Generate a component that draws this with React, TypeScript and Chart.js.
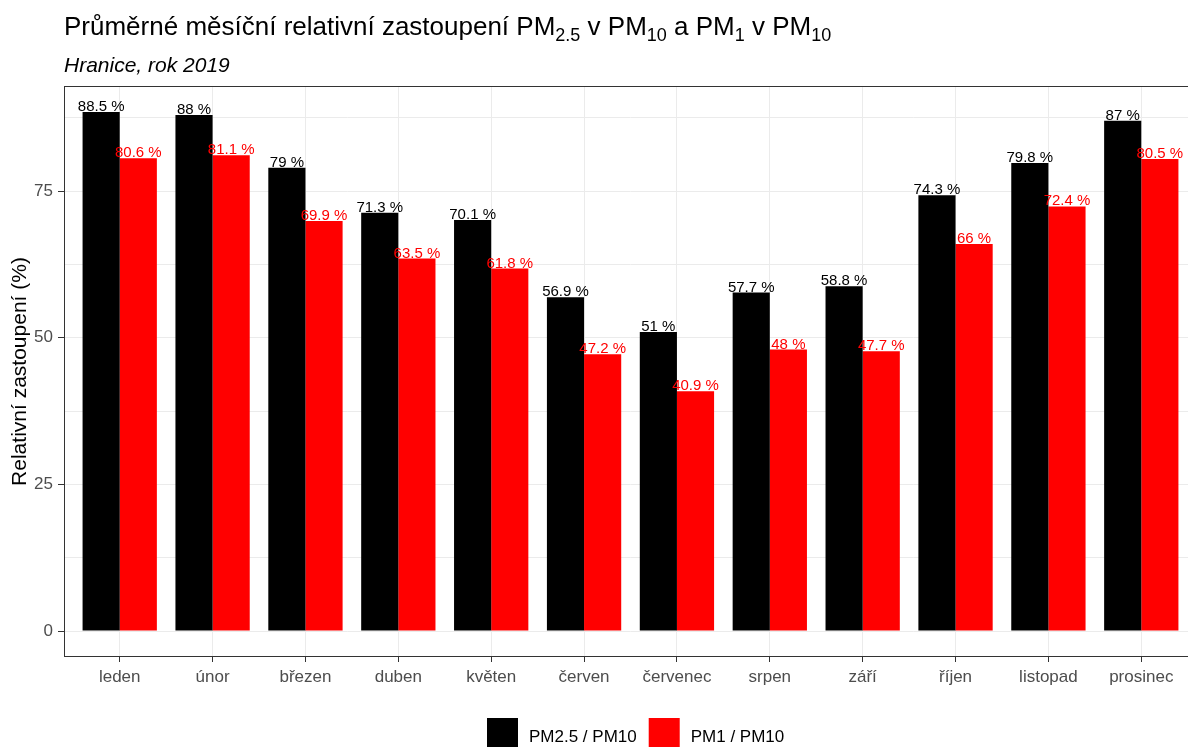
import React, { useEffect, useRef } from 'react';
import { Chart, registerables } from 'chart.js';

Chart.register(...registerables);

const months = ['leden', 'únor', 'březen', 'duben', 'květen', 'červen', 'červenec', 'srpen', 'září', 'říjen', 'listopad', 'prosinec'];
const pm25Ratio = [88.5, 88, 79, 71.3, 70.1, 56.9, 51, 57.7, 58.8, 74.3, 79.8, 87];
const pm1Ratio = [80.6, 81.1, 69.9, 63.5, 61.8, 47.2, 40.9, 48, 47.7, 66, 72.4, 80.5];
const seriesLabels = ['PM2.5 / PM10', 'PM1 / PM10'];
const seriesColors = ['#000000', '#FF0000'];
const yMajorTicks = [0, 25, 50, 75];
const yMinorTicks = [12.5, 37.5, 62.5, 87.5];
const titleParts = [
  { text: 'Průměrné měsíční relativní zastoupení PM', sub: false },
  { text: '2.5', sub: true },
  { text: ' v PM', sub: false },
  { text: '10', sub: true },
  { text: ' a PM', sub: false },
  { text: '1', sub: true },
  { text: ' v PM', sub: false },
  { text: '10', sub: true },
];
const subtitleText = 'Hranice, rok 2019';
const yAxisTitle = 'Relativní zastoupení (%)';

const FAMILY = "'Liberation Sans', Arial, Helvetica, sans-serif";
const CANVAS_W = 1230;
const CANVAS_H = 747;

const headerPlugin = {
  id: 'header',
  afterDraw(chart: any) {
    const ctx = chart.ctx;
    ctx.save();
    ctx.fillStyle = '#000000';
    ctx.textBaseline = 'alphabetic';
    ctx.textAlign = 'left';
    let x = 64;
    const baseY = 35;
    for (const p of titleParts) {
      ctx.font = p.sub ? `18px ${FAMILY}` : `26px ${FAMILY}`;
      ctx.fillText(p.text, x, p.sub ? baseY + 6 : baseY);
      x += ctx.measureText(p.text).width;
    }
    ctx.font = `italic 21px ${FAMILY}`;
    ctx.fillText(subtitleText, 64, 72);
    ctx.restore();
  },
};

const panelPlugin = {
  id: 'panelBorder',
  afterDatasetsDraw(chart: any) {
    const { ctx, chartArea } = chart;
    const l = Math.round(chartArea.left) + 0.5;
    const t = Math.round(chartArea.top) + 0.5;
    const r = Math.round(chartArea.right) - 0.5;
    const b = Math.round(chartArea.bottom) - 0.5;
    ctx.save();
    ctx.strokeStyle = '#333333';
    ctx.lineWidth = 1;
    ctx.strokeRect(l, t, r - l, b - t);
    ctx.restore();
  },
};

const valueLabelPlugin = {
  id: 'valueLabels',
  afterDatasetsDraw(chart: any) {
    const ctx = chart.ctx;
    ctx.save();
    ctx.font = `15px ${FAMILY}`;
    ctx.textAlign = 'center';
    ctx.textBaseline = 'alphabetic';
    chart.data.datasets.forEach((ds: any, di: number) => {
      const meta = chart.getDatasetMeta(di);
      ctx.fillStyle = ds.backgroundColor;
      meta.data.forEach((bar: any, j: number) => {
        const v = ds.data[j].y;
        ctx.fillText(`${v} %`, bar.x, bar.y - 1);
      });
    });
    ctx.restore();
  },
};

const legendPlugin = {
  id: 'bottomLegend',
  afterDraw(chart: any) {
    const ctx = chart.ctx;
    ctx.save();
    ctx.font = `17px ${FAMILY}`;
    ctx.textBaseline = 'alphabetic';
    ctx.textAlign = 'left';
    const key = 31;
    const keyTop = 718;
    let x = 487;
    chart.data.datasets.forEach((ds: any) => {
      ctx.fillStyle = ds.backgroundColor;
      ctx.fillRect(x, keyTop, key, key);
      ctx.fillStyle = '#000000';
      const tx = x + key + 11;
      ctx.fillText(ds.label, tx, 742);
      x = tx + ctx.measureText(ds.label).width + 12;
    });
    ctx.restore();
  },
};

export default function App() {
  const canvasRef = useRef<HTMLCanvasElement | null>(null);

  useEffect(() => {
    if (!canvasRef.current) return;
    const chart = new Chart(canvasRef.current, {
      type: 'bar',
      data: {
        datasets: [
          {
            label: seriesLabels[0],
            data: pm25Ratio.map((v, i) => ({ x: i, y: v })),
            backgroundColor: seriesColors[0],
            borderWidth: 0,
          },
          {
            label: seriesLabels[1],
            data: pm1Ratio.map((v, i) => ({ x: i, y: v })),
            backgroundColor: seriesColors[1],
            borderWidth: 0,
          },
        ],
      },
      options: {
        responsive: false,
        animation: false,
        devicePixelRatio: 1,
        datasets: {
          bar: { categoryPercentage: 0.8, barPercentage: 1.0, grouped: true },
        },
        layout: { padding: { left: 0, top: 86, right: CANVAS_W - 1197, bottom: 60 } },
        plugins: {
          legend: { display: false },
          tooltip: { enabled: false },
          title: { display: false },
        },
        scales: {
          x: {
            type: 'linear',
            min: -0.6,
            max: 11.6,
            offset: false,
            afterBuildTicks: (scale: any) => {
              scale.ticks = months.map((_, i) => ({ value: i }));
            },
            afterFit: (scale: any) => {
              scale.height = 30;
            },
            ticks: {
              autoSkip: false,
              maxRotation: 0,
              padding: 5,
              color: '#4D4D4D',
              font: { family: FAMILY, size: 17 },
              callback: (value: any) => months[Math.round(Number(value))] ?? '',
            },
            grid: {
              offset: false,
              color: '#EBEBEB',
              lineWidth: 1,
              drawTicks: true,
              tickLength: 5,
              tickColor: '#333333',
              tickWidth: 1,
            },
            border: { display: false },
          },
          y: {
            type: 'linear',
            min: -4.425,
            max: 92.925,
            afterBuildTicks: (scale: any) => {
              scale.ticks = [...yMajorTicks, ...yMinorTicks].sort((a, b) => a - b).map((v) => ({ value: v }));
            },
            afterFit: (scale: any) => {
              scale.width = 64;
            },
            ticks: {
              autoSkip: false,
              padding: 5,
              color: '#4D4D4D',
              font: { family: FAMILY, size: 17 },
              callback: (value: any) => (yMajorTicks.includes(Number(value)) ? String(value) : ''),
            },
            grid: {
              offset: false,
              color: '#EBEBEB',
              lineWidth: 1,
              drawTicks: true,
              tickLength: 6,
              tickColor: (ctx: any) => (ctx.tick && yMajorTicks.includes(ctx.tick.value) ? '#333333' : 'rgba(0,0,0,0)'),
              tickWidth: 1,
            },
            border: { display: false },
            title: {
              display: true,
              text: yAxisTitle,
              color: '#000000',
              font: { family: FAMILY, size: 21, lineHeight: 1.2 },
              padding: { top: 8, bottom: 0 },
            },
          },
        },
      },
      plugins: [panelPlugin, valueLabelPlugin, headerPlugin, legendPlugin],
    } as any);
    return () => chart.destroy();
  }, []);

  return (
    <div style={{ position: 'fixed', left: 0, top: 0, width: 1188, height: 747, overflow: 'hidden', background: '#FFFFFF' }}>
      <canvas ref={canvasRef} width={CANVAS_W} height={CANVAS_H} style={{ display: 'block', width: CANVAS_W, height: CANVAS_H, maxWidth: 'none' }} />
    </div>
  );
}
